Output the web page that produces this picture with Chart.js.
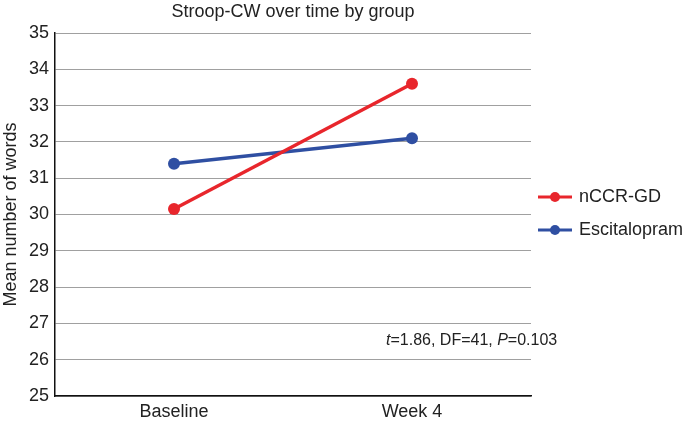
<!DOCTYPE html>
<html>
<head>
<meta charset="utf-8">
<script src="https://cdn.jsdelivr.net/npm/chart.js@4"></script>
<style>
  html, body { margin: 0; padding: 0; background: #fff; }
  #wrap { width: 685px; height: 428px; }
</style>
</head>
<body>
<div id="wrap"><canvas id="chart" width="685" height="428"></canvas></div>
<script>
const timepoints = ["Baseline", "Week 4"];
const nccrGd = [30.15, 33.6];
const escitalopram = [31.4, 32.1];
const yTicks = [25, 35];
const chartTitle = "Stroop-CW over time by group";

const FONT = "'Liberation Sans', Arial, sans-serif";

// title is centred a bit right of the plot in the original
const topTitle = {
    id: "topTitle",
    afterDraw(chart) {
        const ctx = chart.ctx;
        ctx.save();
        ctx.fillStyle = "#222";
        ctx.font = "18px " + FONT;
        ctx.textAlign = "center";
        ctx.textBaseline = "middle";
        ctx.fillText(chartTitle, 293, 12);
        ctx.restore();
    }
};

// legend on the right, line + dot marker
const sideLegend = {
    id: "sideLegend",
    afterDraw(chart) {
        const ctx = chart.ctx;
        const x0 = 538;
        const rows = [197, 230];
        ctx.save();
        chart.data.datasets.forEach((ds, i) => {
            const y = rows[i];
            ctx.strokeStyle = ds.borderColor;
            ctx.lineWidth = 3;
            ctx.beginPath();
            ctx.moveTo(x0, y);
            ctx.lineTo(x0 + 34, y);
            ctx.stroke();
            ctx.fillStyle = ds.borderColor;
            ctx.beginPath();
            ctx.arc(x0 + 17, y, 5, 0, Math.PI * 2);
            ctx.fill();
            ctx.fillStyle = "#222";
            ctx.font = "18px " + FONT;
            ctx.textBaseline = "middle";
            ctx.fillText(ds.label, x0 + 41, y);
        });
        ctx.restore();
    }
};

// statistics note inside the plot
const statNote = {
    id: "statNote",
    afterDraw(chart) {
        const ctx = chart.ctx;
        const parts = [
            ["t", true], ["=1.86, DF=41, ", false], ["P", true], ["=0.103", false]
        ];
        let x = 386;
        const y = 341;
        ctx.save();
        ctx.fillStyle = "#222";
        ctx.textBaseline = "middle";
        parts.forEach(([txt, ital]) => {
            ctx.font = (ital ? "italic " : "") + "16px " + FONT;
            ctx.fillText(txt, x, y);
            x += ctx.measureText(txt).width;
        });
        ctx.restore();
    }
};

new Chart(document.getElementById("chart").getContext("2d"), {
    type: "line",
    data: {
        labels: timepoints,
        datasets: [{
            label: "nCCR-GD",
            data: nccrGd,
            borderColor: "#e8262c",
            backgroundColor: "#e8262c",
            borderWidth: 3.5,
            pointRadius: 6,
            pointBorderWidth: 0,
            tension: 0
        }, {
            label: "Escitalopram",
            data: escitalopram,
            borderColor: "#2f4fa2",
            backgroundColor: "#2f4fa2",
            borderWidth: 3.5,
            pointRadius: 6,
            pointBorderWidth: 0,
            tension: 0
        }]
    },
    options: {
        responsive: false,
        animation: false,
        layout: { padding: { left: 0, right: 154, top: 33, bottom: 0 } },
        plugins: {
            legend: { display: false },
            tooltip: { enabled: false },
            title: { display: false }
        },
        scales: {
            x: {
                offset: true,
                grid: { display: false, drawTicks: false },
                border: { color: "#111", width: 1.5 },
                ticks: { color: "#222", padding: 5, font: { family: FONT, size: 18 } },
                afterFit: s => { s.height = 32; }
            },
            y: {
                min: yTicks[0],
                max: yTicks[1],
                ticks: { stepSize: 1, color: "#222", padding: 6, font: { family: FONT, size: 18 } },
                grid: { color: "#a0a0a0", lineWidth: 1, drawTicks: false },
                border: { color: "#111", width: 1.5 },
                title: {
                    display: true,
                    text: "Mean number of words",
                    color: "#222",
                    font: { family: FONT, size: 18 },
                    padding: { top: 0, bottom: 2 }
                },
                afterFit: s => { s.width = 55; }
            }
        }
    },
    plugins: [topTitle, sideLegend, statNote]
});
</script>
</body>
</html>
